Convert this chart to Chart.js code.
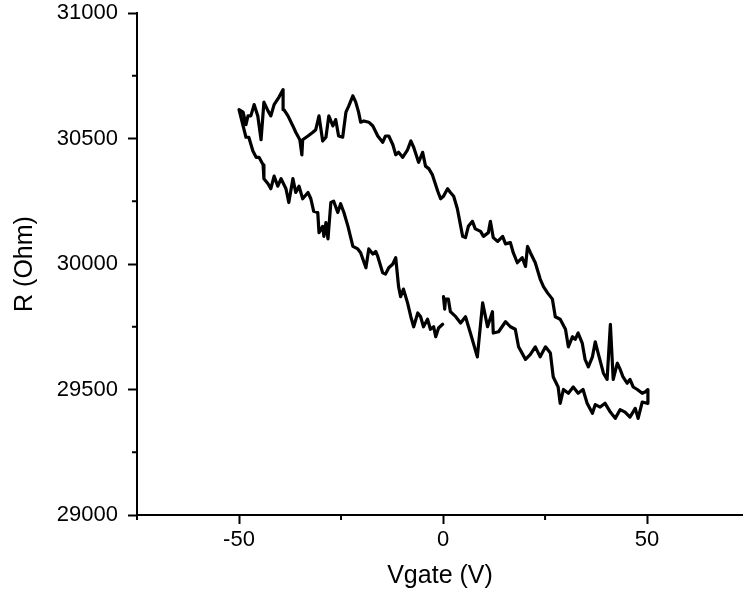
<!DOCTYPE html>
<html>
<head>
<meta charset="utf-8">
<script src="https://cdn.jsdelivr.net/npm/chart.js@4.4.1/dist/chart.umd.min.js"></script>
<style>
  html, body { margin: 0; padding: 0; background: #fff; }
  canvas { display: block; }
</style>
</head>
<body>
<canvas id="grafico" width="743" height="591"></canvas>
<script>
// barrido 0 -> 50 V (rama inferior derecha)
const vgateBajaDer = [0.1, 0.4, 0.6, 1.3, 1.8, 3.1, 4.3, 5.5, 6.7, 8.4, 9.7, 10.9, 12.1, 12.3, 13.6, 15.3, 16.5, 17.7, 18.5, 20.2, 21.4, 22.6, 23.8, 25.1, 26.3, 27.0, 28.2, 28.7, 29.5, 30.7, 31.9, 33.1, 34.3, 35.3, 36.6, 37.3, 38.5, 39.7, 41.0, 42.2, 43.4, 44.6, 45.8, 47.1, 47.8, 48.8, 50.0, 50.2];
const rBajaDer = [29870, 29820, 29860, 29860, 29810, 29790, 29765, 29790, 29725, 29630, 29845, 29750, 29810, 29725, 29730, 29770, 29750, 29740, 29670, 29620, 29640, 29670, 29630, 29670, 29645, 29550, 29510, 29445, 29500, 29485, 29510, 29485, 29500, 29445, 29405, 29440, 29430, 29445, 29410, 29385, 29420, 29410, 29390, 29425, 29385, 29450, 29445, 29500];

// barrido 50 -> -50 V (rama superior)
const vgateAlta = [49.5, 48.8, 47.6, 46.6, 45.8, 45.1, 44.1, 43.4, 42.7, 41.7, 41.0, 40.2, 39.3, 38.0, 37.3, 36.6, 35.6, 34.8, 34.1, 33.1, 32.4, 31.7, 30.7, 30.0, 28.7, 27.5, 26.8, 25.6, 24.6, 23.8, 22.6, 21.4, 20.7, 20.2, 19.4, 18.2, 17.2, 16.5, 15.3, 14.6, 13.4, 12.3, 11.6, 11.1, 9.9, 9.2, 7.9, 7.2, 6.2, 5.5, 4.8, 3.5, 2.6, 1.8, 1.1, 0.1, -0.6, -1.3, -2.6, -3.5, -4.3, -5.0, -6.0, -7.2, -7.9, -8.7, -9.9, -10.9, -11.6, -12.3, -13.3, -14.1, -14.8, -16.0, -17.2, -18.2, -19.4, -20.2, -20.7, -21.4, -22.1, -23.1, -23.8, -24.6, -25.6, -26.3, -27.0, -28.0, -28.7, -29.5, -30.4, -31.2, -31.9, -33.1, -34.4, -34.6, -35.1, -36.1, -36.8, -38.0, -39.0, -39.2, -40.2, -41.4, -42.2, -42.9, -43.9, -44.6, -45.4, -46.3, -47.1, -47.8, -48.3, -49.0, -50.0];
const rAlta = [29490, 29485, 29500, 29510, 29540, 29525, 29550, 29580, 29605, 29540, 29760, 29540, 29565, 29645, 29690, 29630, 29590, 29620, 29685, 29725, 29700, 29710, 29670, 29740, 29780, 29790, 29860, 29885, 29910, 29940, 30005, 30045, 30070, 29990, 30025, 30005, 30045, 30085, 30080, 30110, 30090, 30105, 30170, 30125, 30110, 30130, 30140, 30170, 30150, 30105, 30110, 30220, 30270, 30285, 30300, 30270, 30260, 30290, 30355, 30380, 30390, 30445, 30405, 30465, 30490, 30455, 30425, 30445, 30435, 30475, 30510, 30510, 30485, 30510, 30550, 30565, 30570, 30565, 30605, 30645, 30670, 30630, 30605, 30505, 30510, 30575, 30550, 30590, 30505, 30490, 30590, 30535, 30525, 30510, 30495, 30435, 30495, 30525, 30550, 30590, 30615, 30695, 30665, 30635, 30590, 30610, 30645, 30495, 30590, 30635, 30590, 30590, 30555, 30605, 30615];

// barrido -50 -> 0 V (rama inferior izquierda)
const vgateBajaIzq = [-49.0, -48.3, -47.6, -46.6, -45.8, -45.1, -44.1, -43.9, -42.9, -42.2, -41.4, -40.5, -39.7, -38.5, -37.8, -36.8, -36.1, -35.3, -34.4, -33.1, -32.4, -31.7, -30.7, -30.4, -29.5, -29.2, -28.7, -28.2, -27.5, -26.8, -25.8, -25.1, -24.3, -23.3, -22.1, -20.9, -20.2, -18.9, -18.2, -17.2, -16.5, -16.0, -14.8, -14.1, -13.3, -12.3, -11.6, -10.9, -10.4, -9.7, -8.7, -7.9, -7.2, -6.2, -5.5, -4.8, -3.8, -3.1, -2.3, -1.8, -1.1, -0.1];
const rBajaIzq = [30550, 30505, 30505, 30450, 30425, 30425, 30395, 30340, 30320, 30300, 30350, 30310, 30340, 30300, 30245, 30340, 30285, 30310, 30260, 30285, 30260, 30210, 30205, 30125, 30150, 30110, 30165, 30100, 30245, 30250, 30205, 30240, 30205, 30150, 30070, 30060, 30045, 29985, 30060, 30040, 30050, 30030, 29965, 29960, 29985, 30000, 30025, 29910, 29870, 29900, 29845, 29790, 29750, 29805, 29790, 29750, 29780, 29740, 29750, 29710, 29745, 29760];

// ticks
const xTicksMayores = [-50, 0, 50];
const xTicksMenores = [-75, -25, 25];
const yTicksMayores = [29000, 29500, 30000, 30500, 31000];
const yTicksMenores = [29250, 29750, 30250, 30750];

function armarPuntos() {
    let vs = vgateBajaDer.concat(vgateAlta, vgateBajaIzq);
    let rs = rBajaDer.concat(rAlta, rBajaIzq);
    return vs.map((v, i) => ({ x: v, y: rs[i] }));
}

const fuente = "'Liberation Sans', Arial, sans-serif";

// ticks menores (mas cortos que los mayores)
const ticksMenores = {
    id: 'ticksMenores',
    afterDraw(chart) {
        const ctx = chart.ctx;
        const x = chart.scales.x;
        const y = chart.scales.y;
        ctx.save();
        ctx.strokeStyle = '#000';
        ctx.lineWidth = 2;
        xTicksMenores.forEach(v => {
            let px = x.getPixelForValue(v);
            ctx.beginPath();
            ctx.moveTo(px, x.top);
            ctx.lineTo(px, x.top + 5);
            ctx.stroke();
        });
        yTicksMenores.forEach(v => {
            let py = y.getPixelForValue(v);
            ctx.beginPath();
            ctx.moveTo(y.right, py);
            ctx.lineTo(y.right - 5, py);
            ctx.stroke();
        });
        ctx.restore();
    }
};

var ctx = document.getElementById('grafico').getContext('2d');
var grafico = new Chart(ctx, {
    type: 'scatter',
    data: {
        datasets: [{
            label: 'R',
            data: armarPuntos(),
            showLine: true,
            borderColor: '#000',
            backgroundColor: '#000',
            borderWidth: 3.2,
            borderJoinStyle: 'round',
            borderCapStyle: 'round',
            pointRadius: 0,
            tension: 0
        }]
    },
    options: {
        responsive: false,
        animation: false,
        devicePixelRatio: 1,
        layout: { padding: { top: 13, right: 0, left: 0, bottom: 0 } },
        plugins: {
            legend: { display: false },
            tooltip: { enabled: false }
        },
        scales: {
            x: {
                type: 'linear',
                min: -75,
                max: 73.5,
                afterBuildTicks: s => { s.ticks = xTicksMayores.map(v => ({ value: v })); },
                afterFit: s => { s.height = 76; },
                grid: { drawOnChartArea: false, tickLength: 9, tickWidth: 2, tickColor: '#000' },
                border: { color: '#000', width: 2 },
                ticks: { color: '#000', padding: 3, maxRotation: 0, font: { family: fuente, size: 22 },
                    callback: v => String(v) },
                title: { display: true, text: 'Vgate (V)', color: '#000', padding: { top: 0, bottom: 0 }, font: { family: fuente, size: 25 } }
            },
            y: {
                type: 'linear',
                min: 29000,
                max: 31000,
                afterBuildTicks: s => { s.ticks = yTicksMayores.map(v => ({ value: v })); },
                afterFit: s => { s.width = 137; s.paddingTop = 0; s.paddingBottom = 0; },
                grid: { drawOnChartArea: false, tickLength: 9, tickWidth: 2, tickColor: '#000' },
                border: { color: '#000', width: 2 },
                ticks: { color: '#000', padding: 10, font: { family: fuente, size: 22 },
                    callback: v => String(v) },
                title: { display: true, text: 'R (Ohm)', color: '#000', padding: { top: 10, bottom: 0 }, font: { family: fuente, size: 25 } }
            }
        }
    },
    plugins: [ticksMenores]
});
</script>
</body>
</html>
